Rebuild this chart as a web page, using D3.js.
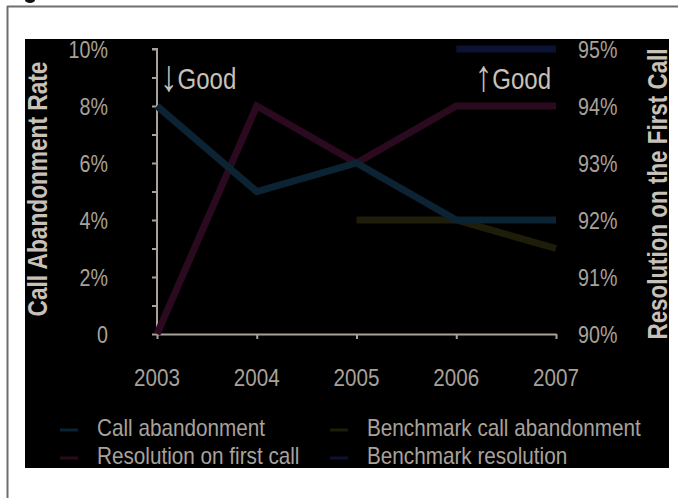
<!DOCTYPE html>
<html><head><meta charset="utf-8">
<script src="https://cdn.jsdelivr.net/npm/d3@7"></script>
<style>
html,body{margin:0;padding:0;background:#fff;}
svg{display:block;}
text{font-family:"Liberation Sans Narrow","Arial Narrow","Liberation Sans",sans-serif;}
</style></head>
<body>
<script>
const years = [2003, 2004, 2005, 2006, 2007];
const callAbandonment = [8, 5, 6, 4, 4];
const resolutionFirstCall = [90, 94, 93, 94, 94];
const benchmarkAbandonment = [null, null, 4, 4, 3];
const benchmarkResolution = [null, null, null, 95, 95];
const leftTicks = [0, 2, 4, 6, 8, 10];
const leftMinorTicks = [1, 3, 5, 7, 9];
const rightTicks = [90, 91, 92, 93, 94, 95];
const legendLabels = ["Call abandonment", "Benchmark call abandonment", "Resolution on first call", "Benchmark resolution"];

const W = 678, H = 498;
const colors = {
  call: "#0b2333",
  res: "#2b0a1f",
  benchCall: "#1e1d09",
  benchRes: "#0b1233"
};
const textCol = "#c9c1b8";
const tickCol = "#a9a29a";

const svg = d3.select("body").append("svg").attr("width", W).attr("height", H);

// condensed text helper
function T(px, py, str, size, anchor, sx, rot, fill, weight) {
  const t = svg.append("text")
    .attr("transform", `translate(${px},${py})` + (rot ? ` rotate(${rot})` : "") + ` scale(${sx},1)`)
    .attr("dy", "0.36em").attr("text-anchor", anchor).attr("font-size", size)
    .attr("fill", fill).text(str);
  if (weight) t.attr("font-weight", weight);
  return t;
}

// frame
svg.append("line").attr("x1", 7).attr("x2", W).attr("y1", 6.5).attr("y2", 6.5).attr("stroke", "#6e6e6e").attr("stroke-width", 2);
svg.append("line").attr("x1", 7.5).attr("x2", 7.5).attr("y1", 6).attr("y2", H).attr("stroke", "#6e6e6e").attr("stroke-width", 2);
svg.append("ellipse").attr("cx", 30).attr("cy", 0).attr("rx", 5).attr("ry", 3).attr("fill", "#111");

// black panel
svg.append("rect").attr("x", 25).attr("y", 39).attr("width", 644).attr("height", 429).attr("fill", "#000");

const x = d3.scalePoint().domain(years).range([157, 556]);
const yL = d3.scaleLinear().domain([0, 10]).range([334, 49]);
const yR = d3.scaleLinear().domain([90, 95]).range([334, 49]);

// left axis
const gL = svg.append("g").attr("transform", "translate(157,0)");
gL.call(d3.axisLeft(yL).tickValues(leftTicks.concat(leftMinorTicks)).tickSize(5).tickFormat(""));
gL.select(".domain").attr("stroke", tickCol).attr("stroke-width", 2).attr("d", "M-5,49H0V334");
gL.selectAll(".tick line").attr("stroke", tickCol).attr("stroke-width", 2);
leftTicks.forEach(v => T(108, yL(v), v === 0 ? "0" : v + "%", 24, "end", 0.82, 0, tickCol));

// right tick labels
rightTicks.forEach(v => T(578, yR(v), v + "%", 24, "start", 0.82, 0, tickCol));

// x axis
const gX = svg.append("g").attr("transform", "translate(0,334)");
gX.call(d3.axisBottom(x).tickSize(5).tickSizeOuter(0).tickFormat(""));
gX.select(".domain").attr("stroke", tickCol).attr("stroke-width", 2);
gX.selectAll(".tick line").attr("stroke", tickCol).attr("stroke-width", 2);
years.forEach(yr => T(x(yr), 377, String(yr), 24, "middle", 0.86, 0, tickCol));

// axis titles
T(37, 189, "Call Abandonment Rate", 28, "middle", 0.81, -90, textCol, "bold");
T(657, 194, "Resolution on the First Call", 28, "middle", 0.8, -90, textCol, "bold");

// lines
function drawLine(vals, yScale, color) {
  const line = d3.line().defined(d => d.v !== null).x(d => x(d.yr)).y(d => yScale(d.v));
  svg.append("path").datum(years.map((yr, i) => ({ yr, v: vals[i] })))
    .attr("d", line).attr("fill", "none").attr("stroke", color).attr("stroke-width", 7)
    .attr("stroke-linejoin", "miter");
}
drawLine(benchmarkResolution, yR, colors.benchRes);
drawLine(benchmarkAbandonment, yL, colors.benchCall);
drawLine(resolutionFirstCall, yR, colors.res);
drawLine(callAbandonment, yL, colors.call);

// Good annotations (tall arrow glyph + word), baseline ~89
function good(px, arrow, anchor) {
  const t = svg.append("text")
    .attr("transform", `translate(${px},89) scale(0.8,1)`)
    .attr("text-anchor", anchor).attr("font-size", 30).attr("fill", textCol);
  t.append("tspan").attr("font-size", 44).attr("dy", 2).text(arrow);
  t.append("tspan").attr("font-size", 30).attr("dy", -2).text("Good");
}
good(160, "\u2193", "start");
good(551, "\u2191", "end");

// legend
const legendItems = [
  { label: legendLabels[0], color: colors.call, x: 60, y: 428 },
  { label: legendLabels[1], color: colors.benchCall, x: 330, y: 428 },
  { label: legendLabels[2], color: colors.res, x: 60, y: 456 },
  { label: legendLabels[3], color: colors.benchRes, x: 330, y: 456 }
];
legendItems.forEach(it => {
  svg.append("line").attr("x1", it.x).attr("x2", it.x + 18).attr("y1", it.y + 2).attr("y2", it.y + 2)
    .attr("stroke", it.color).attr("stroke-width", 3);
  T(it.x + 37, it.y, it.label, 23, "start", 0.9, 0, tickCol);
});
</script>
</body></html>
